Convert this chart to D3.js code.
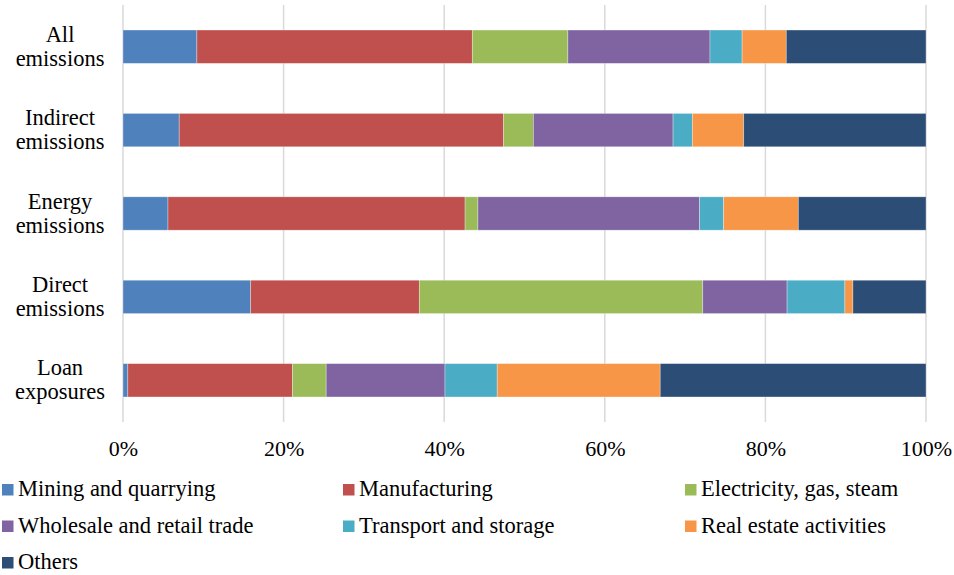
<!DOCTYPE html>
<html>
<head>
<meta charset="utf-8">
<script src="https://cdn.jsdelivr.net/npm/d3@7"></script>
<style>
  body { margin: 0; background: #fff; }
  svg text { font-family: 'Liberation Serif', 'Times New Roman', serif; }
</style>
</head>
<body>
<svg id="chart" width="954" height="575"></svg>
<script>
const CATEGORIES = [
    ["All", "emissions"],
    ["Indirect", "emissions"],
    ["Energy", "emissions"],
    ["Direct", "emissions"],
    ["Loan", "exposures"],
];
const SECTORS = [
    "Mining and quarrying",
    "Manufacturing",
    "Electricity, gas, steam",
    "Wholesale and retail trade",
    "Transport and storage",
    "Real estate activities",
    "Others",
];
const COLORS = ["#4f81bd", "#c0504d", "#9bbb59", "#8064a2", "#4bacc6", "#f79646", "#2c4d75"];

// share (%) per sector, one array per category row
const ALL_EMISSIONS = [9.2, 34.3, 11.9, 17.7, 4.0, 5.5, 17.4];
const INDIRECT_EMISSIONS = [7.0, 40.4, 3.7, 17.4, 2.4, 6.4, 22.7];
const ENERGY_EMISSIONS = [5.6, 37.0, 1.6, 27.6, 3.0, 9.3, 15.9];
const DIRECT_EMISSIONS = [15.9, 21.0, 35.3, 10.5, 7.2, 1.0, 9.1];
const LOAN_EXPOSURES = [0.6, 20.5, 4.2, 14.8, 6.5, 20.3, 33.1];

const X_TICKS = [0, 20, 40, 60, 80, 100];

const rows = [ALL_EMISSIONS, INDIRECT_EMISSIONS, ENERGY_EMISSIONS, DIRECT_EMISSIONS, LOAN_EXPOSURES];

const svg = d3.select("#chart");
const plot = { left: 123, right: 926, top: 5, bottom: 422 };
const FONT = "'Liberation Serif', 'Times New Roman', serif";

const table = rows.map((vals, i) => {
    const o = { key: i };
    SECTORS.forEach((s, j) => (o[s] = vals[j]));
    return o;
});

const xScale = d3.scaleLinear().domain([0, 100]).range([plot.left, plot.right]);
const yScale = d3
    .scaleBand()
    .domain(d3.range(CATEGORIES.length))
    .range([plot.top, plot.bottom])
    .paddingInner(0.6)
    .paddingOuter(0.3);

// vertical gridlines
svg.append("g")
    .selectAll("line")
    .data(X_TICKS)
    .enter()
    .append("line")
    .attr("x1", (d) => xScale(d))
    .attr("x2", (d) => xScale(d))
    .attr("y1", plot.top)
    .attr("y2", plot.bottom)
    .attr("stroke", "#d9d9d9")
    .attr("stroke-width", 1.5);

const stacked = d3.stack().keys(SECTORS)(table);

svg.append("g")
    .selectAll("g")
    .data(stacked)
    .enter()
    .append("g")
    .attr("fill", (d, i) => COLORS[i])
    .selectAll("rect")
    .data((d) => d)
    .enter()
    .append("rect")
    .attr("x", (d) => xScale(d[0]))
    .attr("width", (d) => xScale(d[1]) - xScale(d[0]))
    .attr("y", (d) => yScale(d.data.key))
    .attr("height", yScale.bandwidth())
    .attr("stroke", "#ffffff")
    .attr("stroke-opacity", 0.45)
    .attr("stroke-width", 0.7);

// x axis labels
const xAxis = d3.axisBottom(xScale).tickValues(X_TICKS).tickFormat((d) => d + "%").tickSize(0).tickPadding(18);
const xg = svg.append("g")
    .attr("transform", `translate(0, ${plot.bottom})`)
    .call(xAxis)
    .attr("font-family", FONT);
xg.select(".domain").remove();
xg.selectAll("text").attr("font-size", 22).attr("fill", "#000").style("font-family", FONT);

// category labels (two lines, centred)
const yLabels = svg.append("g")
    .selectAll("text")
    .data(CATEGORIES)
    .enter()
    .append("text")
    .attr("text-anchor", "middle")
    .attr("font-size", 22.5)
    .attr("fill", "#000")
    .style("font-family", FONT)
    .attr("transform", (d, i) => `translate(60, ${yScale(i) + yScale.bandwidth() / 2})`);
yLabels.selectAll("tspan")
    .data((d) => d)
    .enter()
    .append("tspan")
    .attr("x", 0)
    .attr("y", (d, j) => (j === 0 ? -5 : 19))
    .text((d) => d);

// legend
const LEG_X = [2, 343, 685];
const legend = svg.append("g")
    .selectAll("g")
    .data(SECTORS)
    .enter()
    .append("g")
    .attr("transform", (d, i) => `translate(${LEG_X[i % 3]}, ${484 + Math.floor(i / 3) * 36.5})`);
legend.append("rect")
    .attr("width", 11.5)
    .attr("height", 11.5)
    .attr("fill", (d, i) => COLORS[i]);
legend.append("text")
    .attr("x", 16)
    .attr("y", 12)
    .attr("font-size", 22.5)
    .attr("fill", "#000")
    .style("font-family", FONT)
    .text((d) => d);
</script>
</body>
</html>
